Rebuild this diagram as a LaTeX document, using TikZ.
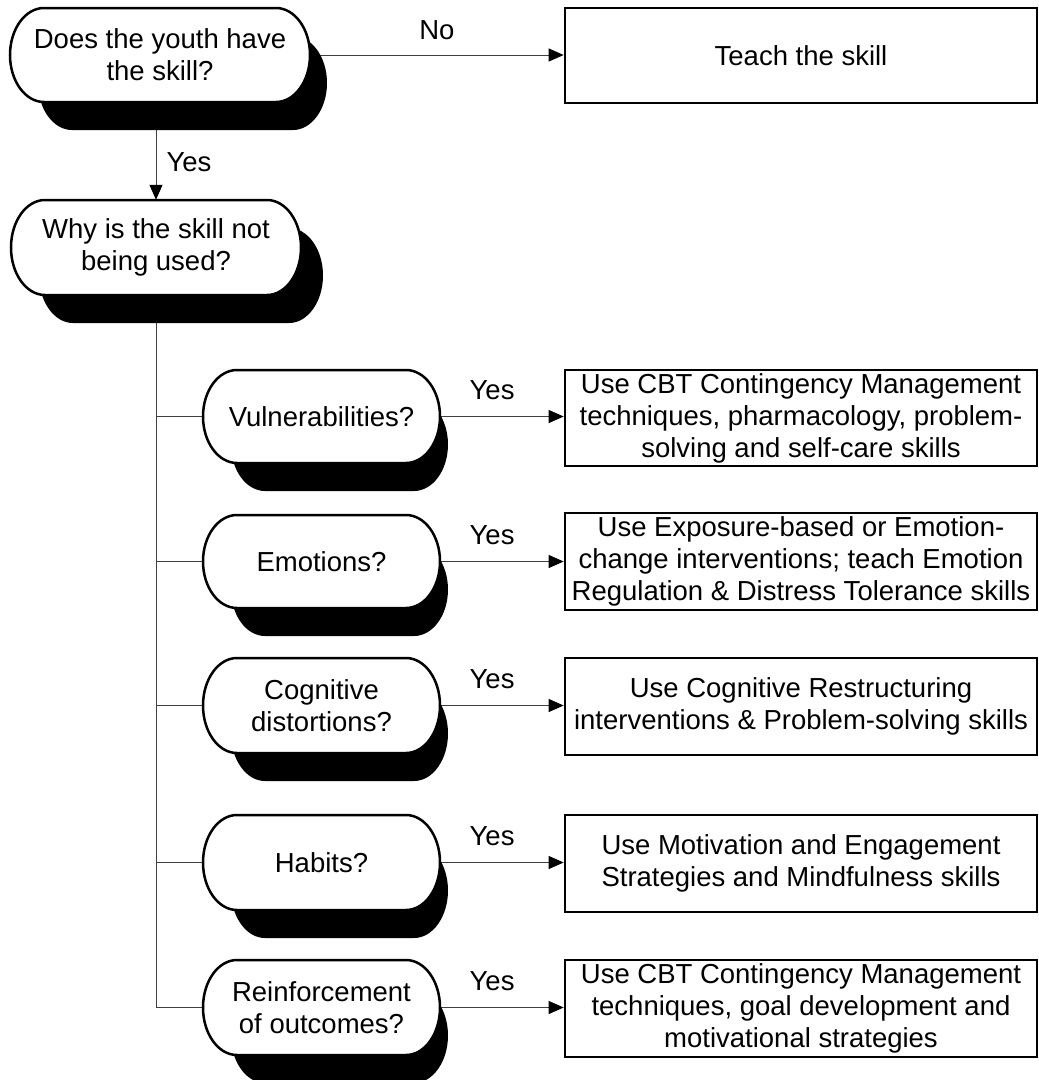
\documentclass[tikz,border=0pt]{standalone}
\usepackage{fontspec}
\setmainfont{Liberation Sans}
\usetikzlibrary{arrows.meta,backgrounds}
\def\Rx{34}
\newcommand\stadpath[4]{({#1+\Rx},{#2}) -- ({#3-\Rx},{#2})
  .. controls ({#3-\Rx+0.552*\Rx},{#2}) and ({#3},{((#2)+(#4))/2-0.552*((#4)-(#2))/2}) .. ({#3},{((#2)+(#4))/2})
  .. controls ({#3},{((#2)+(#4))/2+0.552*((#4)-(#2))/2}) and ({#3-\Rx+0.552*\Rx},{#4}) .. ({#3-\Rx},{#4})
  -- ({#1+\Rx},{#4})
  .. controls ({#1+\Rx-0.552*\Rx},{#4}) and ({#1},{((#2)+(#4))/2+0.552*((#4)-(#2))/2}) .. ({#1},{((#2)+(#4))/2})
  .. controls ({#1},{((#2)+(#4))/2-0.552*((#4)-(#2))/2}) and ({#1+\Rx-0.552*\Rx},{#2}) .. cycle}
% name, cx, cy, w, h, shadow right extra, text
\newcommand\termshape[7]{%
  \pgfmathsetmacro\Xa{#2-#4/2}%
  \pgfmathsetmacro\Xb{#2+#4/2}%
  \pgfmathsetmacro\Ya{#3-#5/2}%
  \pgfmathsetmacro\Yb{#3+#5/2}%
  \fill[black] \stadpath{\Xa+28}{\Ya+28}{\Xb+#6}{\Yb+28};
  \filldraw[fill=white,draw=black,line width=2.5pt] \stadpath{\Xa}{\Ya}{\Xb}{\Yb};
  \node[termtext,minimum width=#4pt,minimum height=#5pt] (#1) at (#2,#3) {#7};
}
\tikzset{
  every node/.style={font=\fontsize{27.5}{32}\selectfont,inner sep=0pt},
  termtext/.style={align=center},
  actbox/.style={draw,line width=2.7pt,minimum width=472pt,minimum height=96pt,align=center},
  conn/.style={line width=1pt,draw=black!75},
  arr/.style={conn,-{Triangle[length=15pt,width=13pt,fill=black,color=black]}},
  lab/.style={text=black}
}
\begin{document}
\begin{tikzpicture}[x=1pt,y=-1pt]
\useasboundingbox (0,0) rectangle (1039,1080);
% decision shapes
\termshape{q1}{160}{55}{300}{94}{17}{Does the youth have\\the skill?}
\termshape{q2}{156}{247.5}{290}{95}{22}{Why is the skill not\\being used?}
\termshape{v}{321.5}{416.5}{237}{93}{8}{Vulnerabilities?}
\termshape{e}{321.5}{561.5}{237}{93}{8}{Emotions?}
\termshape{c}{321.5}{705.5}{237}{95}{8}{Cognitive\\distortions?}
\termshape{h}{321.5}{862.5}{237}{95}{8}{Habits?}
\termshape{r}{321.5}{1007.5}{237}{95}{8}{Reinforcement\\of outcomes?}
% action boxes
\node[actbox,minimum height=95pt] (t) at (801,55.5) {Teach the skill};
\node[actbox] (b1) at (801,418) {Use CBT Contingency Management\\techniques, pharmacology, problem-\\solving and self-care skills};
\node[actbox,minimum height=97pt] (b2) at (801,561.5) {Use Exposure-based or Emotion-\\change interventions; teach Emotion\\Regulation \& Distress Tolerance skills};
\node[actbox,minimum height=97pt] (b3) at (801,706.5) {Use Cognitive Restructuring\\interventions \& Problem-solving skills};
\node[actbox,minimum height=97pt] (b4) at (801,863.5) {Use Motivation and Engagement\\Strategies and Mindfulness skills};
\node[actbox,minimum height=97pt] (b5) at (801,1008.5) {Use CBT Contingency Management\\techniques, goal development and\\motivational strategies};
% connectors
\begin{pgfonlayer}{background}
\draw[arr] (q1.east) -- node[lab,pos=0.5,above=15pt] {No} (q1.east -| t.west);
\draw[arr] (q1.south -| q2.north) -- node[lab,pos=0.61,right=10pt] {Yes} (q2.north);
\draw[conn] (q2.south) -- (q2.south |- r.west);
\foreach \n/\b in {v/b1,e/b2,c/b3,h/b4,r/b5}{
  \draw[conn] (q2.south |- \n.west) -- (\n.west);
  \draw[arr] (\n.east) -- node[lab,pos=0.42,above=16pt] {Yes} (\n.east -| \b.west);
}
\end{pgfonlayer}
\end{tikzpicture}
\end{document}
